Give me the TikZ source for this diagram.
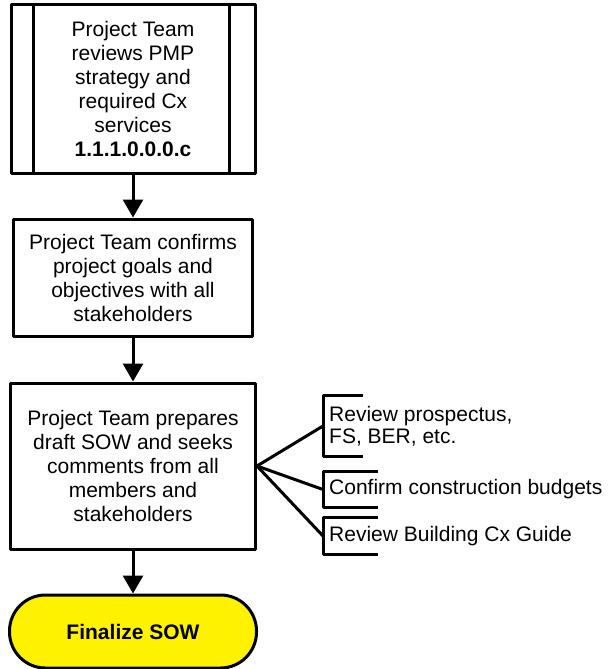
\documentclass[tikz,border=0pt]{standalone}
\usepackage{fontspec}
\setmainfont{Liberation Sans}
\usetikzlibrary{arrows.meta,calc}

\begin{document}
\begin{tikzpicture}[x=1pt,y=-1pt,line join=round,
  box/.style={draw,line width=3pt,align=center,inner sep=2pt,font=\fontsize{21}{24}\selectfont},
  flow/.style={line width=3pt,-{Triangle[length=18pt,width=20pt]}},
  note/.style={anchor=west,align=left,inner sep=6pt,font=\fontsize{21}{22}\selectfont},
  brace/.style={line width=3pt},
  fan/.style={line width=3pt}]
  \useasboundingbox (0,0) rectangle (610,669);
  \node[box,minimum width=244pt,minimum height=168pt] (review) at (133,89)
    {Project Team\\reviews PMP\\strategy and\\required Cx\\services\\\textbf{1.1.1.0.0.0.c}};
  \draw[brace] ($(review.north west)+(24,0)$) -- ($(review.south west)+(24,0)$);
  \draw[brace] ($(review.north east)+(-27,0)$) -- ($(review.south east)+(-27,0)$);
  \node[box,minimum width=239pt,minimum height=117pt] (confirm) at (133,277.5)
    {Project Team confirms\\project goals and\\objectives with all\\stakeholders};
  \node[box,minimum width=245pt,minimum height=166pt] (prepare) at (133,466)
    {Project Team prepares\\draft SOW and seeks\\comments from all\\members and\\stakeholders};
  \node[box,fill=yellow,rounded corners=36pt,minimum width=247pt,minimum height=73pt,
    font=\fontsize{21}{24}\selectfont\bfseries] (final) at (133,631.5) {Finalize SOW};
  \draw[flow] (review) -- (confirm);
  \draw[flow] (confirm) -- (prepare);
  \draw[flow] (prepare) -- (final);
  % side notes
  \node[note,minimum height=60pt] (prospectus) at (323,426) {Review prospectus,\\FS, BER, etc.};
  \node[note,minimum height=35pt] (budgets) at (323,489.5) {Confirm construction budgets};
  \node[note,minimum height=36pt] (guide) at (323,536) {Review Building Cx Guide};
  \draw[brace] ($(prospectus.north west)+(40,0)$) -- (prospectus.north west) -- (prospectus.south west) -- ++(40,0);
  \draw[brace] ($(budgets.north west)+(55,0)$) -- (budgets.north west) -- (budgets.south west) -- ++(55,0);
  \draw[brace] ($(guide.north west)+(55,0)$) -- (guide.north west) -- (guide.south west) -- ++(55,0);
  \draw[fan] (prepare.east) -- (prospectus.west);
  \draw[fan] (prepare.east) -- (budgets.west);
  \draw[fan] (prepare.east) -- (guide.west);
\end{tikzpicture}
\end{document}
